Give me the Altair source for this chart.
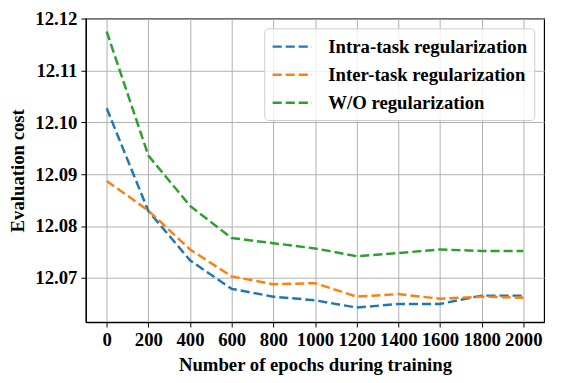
import altair as alt
import pandas as pd

epochs = [0, 200, 400, 600, 800, 1000, 1200, 1400, 1600, 1800, 2000]
intra = [12.1027, 12.0829, 12.0734, 12.0679, 12.0664, 12.0657, 12.0643, 12.0650, 12.0650, 12.0666, 12.0666]
inter = [12.0887, 12.0830, 12.0755, 12.0703, 12.0688, 12.0690, 12.0664, 12.0669, 12.0660, 12.0664, 12.0662]
wo = [12.1175, 12.0936, 12.0839, 12.0777, 12.0767, 12.0757, 12.0742, 12.0748, 12.0755, 12.0752, 12.0752]

series = ["Intra-task regularization", "Inter-task regularization", "W/O regularization"]
colors = ["#1f77b4", "#ff7f0e", "#2ca02c"]
y_ticks = [12.07, 12.08, 12.09, 12.10, 12.11, 12.12]

rows = []
for name, vals in zip(series, [intra, inter, wo]):
    for e, v in zip(epochs, vals):
        rows.append({"epoch": e, "cost": v, "series": name})
df = pd.DataFrame(rows)

FONT = "Liberation Serif"

chart = alt.Chart(df).mark_line(strokeWidth=2.5, strokeDash=[9.25, 4]).encode(
    x=alt.X("epoch:Q", scale=alt.Scale(domain=[-100, 2100], nice=False, zero=False),
            axis=alt.Axis(values=epochs, title="Number of epochs during training", format="d")),
    y=alt.Y("cost:Q", scale=alt.Scale(domain=[12.0615, 12.12], nice=False, zero=False),
            axis=alt.Axis(values=y_ticks, format=".2f", title="Evaluation cost")),
    color=alt.Color("series:N", sort=series,
                    scale=alt.Scale(domain=series, range=colors),
                    legend=alt.Legend(title=None, orient="top-right", offset=10,
                                      symbolType="M-1,0L3,0", symbolSize=400,
                                      symbolStrokeWidth=2.5, symbolDash=[9.25, 4],
                                      symbolFillColor="transparent",
                                      labelFont=FONT, labelFontSize=19, labelFontWeight="bold",
                                      labelColor="black", labelOffset=35, rowPadding=6.5,
                                      labelLimit=400,
                                      fillColor="rgba(255,255,255,0.8)", strokeColor="#cccccc",
                                      cornerRadius=4, padding=7)),
).properties(
    width=465, height=308,
    autosize=alt.AutoSizeParams(type="none"),
    padding={"left": 79, "top": 8, "right": 9, "bottom": 51},
).configure_axis(
    labelFont=FONT, labelFontSize=19, labelFontWeight="bold", labelColor="black",
    titleFont=FONT, titleFontSize=19, titleFontWeight="bold", titleColor="black",
    domainColor="black", domainWidth=1.2, tickColor="black", tickSize=5, labelPadding=4,
    gridColor="#b0b0b0", gridWidth=1, gridOpacity=1,
).configure_axisX(titlePadding=6).configure_axisY(titlePadding=8).configure_view(
    stroke="black", strokeWidth=1.2
)

chart.save("out.html", embed_options={"renderer": "svg", "actions": False})
